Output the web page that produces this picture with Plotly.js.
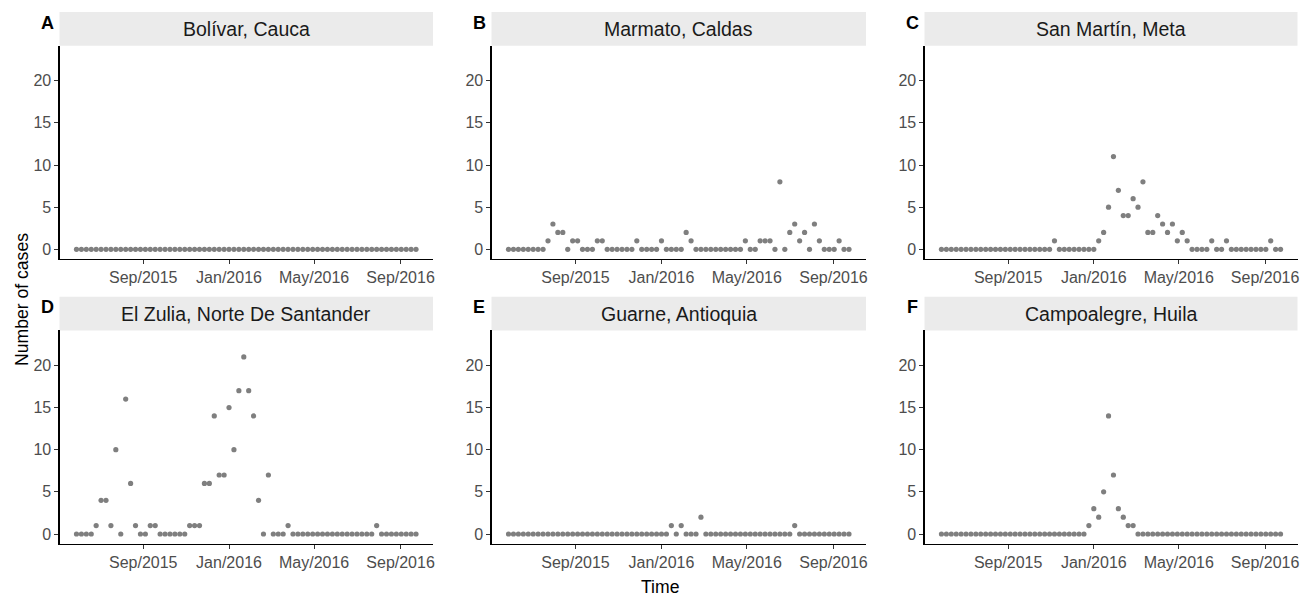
<!DOCTYPE html>
<html>
<head>
<meta charset="utf-8">
<script src="https://cdn.plot.ly/plotly-3.0.1.min.js"></script>
<style>html,body{margin:0;padding:0;background:#fff;}#chart{width:1313px;height:596px;}</style>
</head>
<body>
<div id="chart"></div>
<script>
// ---------- data ----------
const weeks = [
 "2015-05-29","2015-06-05","2015-06-12","2015-06-19","2015-06-26","2015-07-03","2015-07-10","2015-07-17","2015-07-24","2015-07-31",
 "2015-08-07","2015-08-14","2015-08-21","2015-08-28","2015-09-04","2015-09-11","2015-09-18","2015-09-25","2015-10-02","2015-10-09",
 "2015-10-16","2015-10-23","2015-10-30","2015-11-06","2015-11-13","2015-11-20","2015-11-27","2015-12-04","2015-12-11","2015-12-18",
 "2015-12-25","2016-01-01","2016-01-08","2016-01-15","2016-01-22","2016-01-29","2016-02-05","2016-02-12","2016-02-19","2016-02-26",
 "2016-03-04","2016-03-11","2016-03-18","2016-03-25","2016-04-01","2016-04-08","2016-04-15","2016-04-22","2016-04-29","2016-05-06",
 "2016-05-13","2016-05-20","2016-05-27","2016-06-03","2016-06-10","2016-06-17","2016-06-24","2016-07-01","2016-07-08","2016-07-15",
 "2016-07-22","2016-07-29","2016-08-05","2016-08-12","2016-08-19","2016-08-26","2016-09-02","2016-09-09","2016-09-16","2016-09-23"
];

const panelTitles = ["Bolívar, Cauca","Marmato, Caldas","San Martín, Meta",
                     "El Zulia, Norte De Santander","Guarne, Antioquia","Campoalegre, Huila"];
const panelLetters = ["A","B","C","D","E","F"];

const bolivarCauca = [
 0,0,0,0,0,0,0,0,0,0, 0,0,0,0,0,0,0,0,0,0, 0,0,0,0,0,0,0,0,0,0,
 0,0,0,0,0,0,0,0,0,0, 0,0,0,0,0,0,0,0,0,0, 0,0,0,0,0,0,0,0,0,0,
 0,0,0,0,0,0,0,0,0,0];
const marmatoCaldas = [
 0,0,0,0,0,0,0,0,1,3, 2,2,0,1,1,0,0,0,1,1, 0,0,0,0,0,0,1,0,0,0,
 0,1,0,0,0,0,2,1,0,0, 0,0,0,0,0,0,0,0,1,0, 0,1,1,1,0,8,0,2,3,1,
 2,0,3,1,0,0,0,1,0,0];
const sanMartinMeta = [
 0,0,0,0,0,0,0,0,0,0, 0,0,0,0,0,0,0,0,0,0, 0,0,0,1,0,0,0,0,0,0,
 0,0,1,2,5,11,7,4,4,6, 5,8,2,2,4,3,2,3,1,2, 1,0,0,0,0,1,0,0,1,0,
 0,0,0,0,0,0,0,1,0,0];
const elZulia = [
 0,0,0,0,1,4,4,1,10,0, 16,6,1,0,0,1,1,0,0,0, 0,0,0,1,1,1,6,6,14,7,
 7,15,10,17,21,17,14,4,0,7, 0,0,0,1,0,0,0,0,0,0, 0,0,0,0,0,0,0,0,0,0,
 0,1,0,0,0,0,0,0,0,0];
const guarneAntioquia = [
 0,0,0,0,0,0,0,0,0,0, 0,0,0,0,0,0,0,0,0,0, 0,0,0,0,0,0,0,0,0,0,
 0,0,0,1,0,1,0,0,0,2, 0,0,0,0,0,0,0,0,0,0, 0,0,0,0,0,0,0,0,1,0,
 0,0,0,0,0,0,0,0,0,0];
const campoalegreHuila = [
 0,0,0,0,0,0,0,0,0,0, 0,0,0,0,0,0,0,0,0,0, 0,0,0,0,0,0,0,0,0,0,
 1,3,2,5,14,7,3,2,1,1, 0,0,0,0,0,0,0,0,0,0, 0,0,0,0,0,0,0,0,0,0,
 0,0,0,0,0,0,0,0,0,0];

const seriesValues = [bolivarCauca, marmatoCaldas, sanMartinMeta, elZulia, guarneAntioquia, campoalegreHuila];

const xTickVals = ["2015-09-01","2016-01-01","2016-05-01","2016-09-01"];
const yTickVals = [0,5,10,15,20];

// ---------- layout geometry (pixels) ----------
const W = 1313, H = 596;
const cols = [[59.5, 433], [491.5, 866], [924.5, 1297.5]];
const rows = [{strip:[12, 45.7], plot:[45.7, 259]}, {strip:[296.7, 330.4], plot:[330.4, 543.7]}];
const px = x => x / W;
const py = y => 1 - y / H;

// ggplot-like 5% expansion of the date range
const t0 = Date.parse(weeks[0]), t1 = Date.parse(weeks[weeks.length-1]);
const span = t1 - t0;
const fmt = ms => new Date(ms).toISOString().replace('T',' ').replace('Z','');
const xRange = [fmt(t0 - 0.05*span), fmt(t1 + 0.05*span)];
const yRange = [-1.15, 24.15];

const FONT = "Liberation Sans, Arial, Helvetica, sans-serif";
const data = [];
const layout = {
  width: W, height: H,
  margin: {l:0, r:0, t:0, b:0},
  paper_bgcolor: "#ffffff", plot_bgcolor: "#ffffff",
  showlegend: false,
  font: {family: FONT},
  shapes: [], annotations: []
};

for (let i = 0; i < 6; i++) {
  const c = i % 3, r = Math.floor(i / 3);
  const n = i === 0 ? "" : String(i + 1);
  data.push({
    type: "scatter", mode: "markers",
    x: weeks, y: seriesValues[i],
    xaxis: "x" + n, yaxis: "y" + n,
    marker: {color: "#7f7f7f", size: 5.2, line: {width: 0}},
    hoverinfo: "x+y"
  });
  const [x0, x1] = cols[c];
  const row = rows[r];
  layout["xaxis" + n] = {
    domain: [px(x0), px(x1)], anchor: "y" + n,
    type: "date", range: xRange,
    tickvals: xTickVals, tickformat: "%b/%Y",
    showgrid: false, zeroline: false,
    showline: true, linecolor: "#000000", linewidth: 1.1,
    ticks: "outside", ticklen: 4, tickwidth: 1, tickcolor: "#333333",
    tickfont: {family: FONT, size: 16, color: "#4d4d4d"},
    fixedrange: true
  };
  layout["yaxis" + n] = {
    domain: [py(row.plot[1]), py(row.plot[0])], anchor: "x" + n,
    range: yRange, tickvals: yTickVals,
    showgrid: false, zeroline: false,
    showline: true, linecolor: "#000000", linewidth: 1.1,
    ticks: "outside", ticklen: 4, tickwidth: 1, tickcolor: "#333333",
    tickfont: {family: FONT, size: 16, color: "#4d4d4d"},
    fixedrange: true
  };
  // strip
  layout.shapes.push({
    type: "rect", xref: "paper", yref: "paper",
    x0: px(x0), x1: px(x1), y0: py(row.strip[1]), y1: py(row.strip[0]),
    fillcolor: "#ebebeb", line: {width: 0}, layer: "below"
  });
  layout.annotations.push({
    xref: "paper", yref: "paper",
    x: px((x0 + x1) / 2), y: py((row.strip[0] + row.strip[1]) / 2),
    xanchor: "center", yanchor: "middle", showarrow: false,
    text: panelTitles[i],
    font: {family: FONT, size: 19.5, color: "#1a1a1a"}
  });
  // panel letter
  layout.annotations.push({
    xref: "paper", yref: "paper",
    x: px(x0 - 12.5), y: py(row.strip[0] + 10.5),
    xanchor: "center", yanchor: "middle", showarrow: false,
    text: "<b>" + panelLetters[i] + "</b>",
    font: {family: FONT, size: 18, color: "#000000"}
  });
}

// axis titles
layout.annotations.push({
  xref: "paper", yref: "paper", x: px(22), y: py(300),
  xanchor: "center", yanchor: "middle", showarrow: false, textangle: -90,
  text: "Number of cases", font: {family: FONT, size: 17.6, color: "#000000"}
});
layout.annotations.push({
  xref: "paper", yref: "paper", x: px(660), y: py(587),
  xanchor: "center", yanchor: "middle", showarrow: false,
  text: "Time", font: {family: FONT, size: 17.6, color: "#000000"}
});

Plotly.newPlot("chart", data, layout, {displayModeBar: false, staticPlot: true});
</script>
</body>
</html>
